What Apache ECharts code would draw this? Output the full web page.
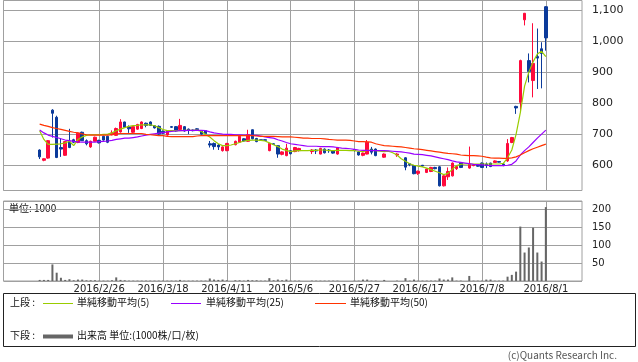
<!DOCTYPE html>
<html><head><meta charset="utf-8">
<script src="https://cdn.jsdelivr.net/npm/echarts/dist/echarts.min.js"></script>
<style>html,body{margin:0;padding:0;background:#fff}#c{width:638px;height:362px}</style>
</head><body><div id="c"></div>
<script>
// trading days shown (2016)
const dates = [
'2016/2/5','2016/2/8','2016/2/9','2016/2/10','2016/2/12','2016/2/15','2016/2/16','2016/2/17','2016/2/18','2016/2/19','2016/2/22','2016/2/23','2016/2/24','2016/2/25','2016/2/26',
'2016/2/29','2016/3/1','2016/3/2','2016/3/3','2016/3/4','2016/3/7','2016/3/8','2016/3/9','2016/3/10','2016/3/11','2016/3/14','2016/3/15','2016/3/16','2016/3/17','2016/3/18',
'2016/3/22','2016/3/23','2016/3/24','2016/3/25','2016/3/28','2016/3/29','2016/3/30','2016/3/31','2016/4/1','2016/4/4','2016/4/5','2016/4/6','2016/4/7','2016/4/8','2016/4/11',
'2016/4/12','2016/4/13','2016/4/14','2016/4/15','2016/4/18','2016/4/19','2016/4/20','2016/4/21','2016/4/22','2016/4/25','2016/4/26','2016/4/27','2016/4/28','2016/5/2','2016/5/6',
'2016/5/9','2016/5/10','2016/5/11','2016/5/12','2016/5/13','2016/5/16','2016/5/17','2016/5/18','2016/5/19','2016/5/20','2016/5/23','2016/5/24','2016/5/25','2016/5/26','2016/5/27',
'2016/5/30','2016/5/31','2016/6/1','2016/6/2','2016/6/3','2016/6/6','2016/6/7','2016/6/8','2016/6/9','2016/6/10','2016/6/13','2016/6/14','2016/6/15','2016/6/16','2016/6/17',
'2016/6/20','2016/6/21','2016/6/22','2016/6/23','2016/6/24','2016/6/27','2016/6/28','2016/6/29','2016/6/30','2016/7/1','2016/7/4','2016/7/5','2016/7/6','2016/7/7','2016/7/8',
'2016/7/11','2016/7/12','2016/7/13','2016/7/14','2016/7/15','2016/7/19','2016/7/20','2016/7/21','2016/7/22','2016/7/25','2016/7/26','2016/7/27','2016/7/28','2016/7/29','2016/8/1'];

const openP = [650,617,624,778,755,658,633,676,683,674,707,680,660,678,681,
694,694,699,697,708,740,724,707,717,719,736,740,728,726,710,
698,725,725,716,725,717,714,718,712,712,670,671,666,648,648,
null,667,675,686,678,715,687,683,683,648,670,664,636,632,648,
645,648,null,null,645,650,637,653,650,648,637,null,null,null,651,
644,633,637,653,653,null,627,null,null,634,null,625,606,600,575,
601,578,581,594,596,535,564,567,590,608,null,592,600,601,608,
605,608,610,613,605,615,674,790,803,1068,937,873,950,975,1110];
const closeP = [628,622,680,768,626,653,677,658,675,704,680,670,678,691,673,
682,675,705,719,740,723,718,725,732,740,729,729,721,701,704,
711,723,711,729,711,713,712,716,701,702,666,661,660,660,671,
null,678,694,679,699,686,677,681,681,671,668,637,644,656,638,
658,655,null,null,650,647,655,641,648,640,658,null,null,null,649,
634,640,675,643,632,null,637,null,null,637,null,595,603,574,582,
599,589,594,590,535,567,581,608,597,594,null,605,602,598,594,
600,597,615,611,603,671,690,785,937,1089,902,928,945,960,1010];
const lowP = [621,614,622,690,624,628,631,656,672,672,679,665,657,677,671,
680,672,697,695,706,721,705,705,715,717,723,727,719,699,701,
696,721,709,714,709,701,710,714,699,700,658,651,650,645,646,
null,665,673,677,676,684,675,679,680,646,666,625,633,630,636,
643,645,null,null,637,637,636,639,641,638,635,null,null,null,645,
632,630,636,636,630,null,625,null,null,628,null,585,598,572,570,
597,576,579,588,533,533,554,565,586,592,null,590,598,596,592,
592,595,609,610,598,612,672,766,771,1050,867,819,846,848,969];
const highP = [652,623,682,781,760,688,679,718,686,706,709,684,680,693,683,
696,696,713,722,749,741,729,727,734,742,738,742,730,729,713,
713,727,727,750,727,719,716,720,714,713,679,674,669,662,673,
null,680,696,688,715,716,689,684,684,673,671,666,646,670,650,
660,657,null,null,653,653,657,655,653,650,660,null,null,null,653,
646,642,682,660,655,null,639,null,null,640,null,627,608,602,584,
602,591,596,596,598,569,594,610,600,610,null,661,604,603,610,
610,609,617,614,608,685,692,792,940,1090,960,1057,1040,996,1112];

const volume = [3,3,3,46,23,9,3,5,2,4,4,2,2,2,1,
1,1,2,10,3,2,1,1,1,1,1,1,1,1,1,
1,1,1,3,1,1,1,1,1,1,7,4,3,4,2,
0,2,2,1,3,2,2,1,1,8,2,4,2,4,1,
1,1,0,0,1,1,1,1,1,1,1,0,0,0,1,
1,4,4,1,1,0,3,0,0,1,0,8,1,4,1,
1,1,1,1,7,4,4,10,1,1,0,14,1,1,1,
4,4,1,1,1,12,17,26,151,79,93,148,79,54,205];

const ma5 = [712,684,668,668,669,670,673,678,664,684,692,697,699,699,699,
700,701,705,712,717,722,726,728,729,731,731,731,728,722,716,
712,712,712,712,713,713,713,714,710,700,692,680,670,664,664,
666,670,674,679,681,682,682,681,679,673,667,661,653,649,645,
647,648,648,648,649,649,650,650,648,648,649,649,649,648,648,
646,645,649,649,648,646,645,646,641,634,622,614,606,601,598,
596,592,587,582,577,571,575,588,600,604,605,605,605,605,605,
605,605,605,605,607,625,650,700,770,855,900,933,958,967,950];
const ma25 = [714,705,698,694,690,686,682,680,678,676,675,675,675,675,677,
678,679,681,684,686,688,688,690,692,695,698,700,702,704,706,
708,710,711,712,712,713,713,713,713,712,708,705,703,701,700,
700,699,699,698,698,697,697,695,692,690,688,683,679,674,670,
668,666,664,662,662,662,661,661,661,660,658,656,655,654,652,
650,649,649,648,648,648,648,647,646,645,644,642,640,637,636,
635,633,631,628,625,622,619,615,612,610,608,606,604,603,602,
601,600,600,600,600,601,604,615,634,648,660,674,688,701,714];
const ma50 = [733,729,726,722,719,716,713,710,707,705,702,699,698,698,698,
698,698,699,702,703,703,703,703,703,703,700,699,698,696,696,
694,693,693,693,693,693,693,695,696,696,696,696,696,696,696,
696,696,696,696,696,696,695,694,694,694,694,693,692,692,692,
691,690,688,688,687,687,687,686,684,683,682,682,682,681,679,
677,677,676,675,670,667,664,663,662,661,660,658,656,654,653,
651,649,647,645,643,641,639,638,637,634,633,632,632,631,630,
627,625,624,624,623,623,625,628,634,641,648,654,659,664,669];

const tickDates = ['2016/2/26','2016/3/18','2016/4/11','2016/5/6','2016/5/27','2016/6/17','2016/7/8','2016/8/1'];
const priceTicks = [600,700,800,900,1000,1100];
const volumeTicks = [50,100,150,200];

const PAD = 8;
const padL = Array.from({length: PAD}, (_, i) => 'padL' + i);
const padR = Array.from({length: PAD}, (_, i) => 'padR' + i);
const cats = padL.concat(dates, padR);
const blanks = Array(PAD).fill('-');
const fill = arr => blanks.concat(arr.map(v => v == null ? '-' : v), blanks);

const candles = blanks.concat(dates.map((d, i) => openP[i] == null ? '-' :
  [openP[i], closeP[i], lowP[i], highP[i]]), blanks);

const UP = '#ff0a3c', DOWN = '#0b3a9a';
const GRID = '#a0a0a0';
const MA5C = '#99cc00', MA25C = '#9900ff', MA50C = '#ff3300';
const JP = '"Noto Sans CJK JP", sans-serif';

const vLines = tickDates.map(d => ({xAxis: d}));
const vMark = {silent: true, symbol: 'none', z: 1, animation: false,
  label: {show: false}, lineStyle: {color: GRID, width: 1, type: 'solid'},
  emphasis: {disabled: true}, data: vLines};

const fmtPrice = v => priceTicks.includes(v) ? v.toLocaleString('en-US') : '';
const fmtVol = v => volumeTicks.includes(v) ? String(v) : '';

const chart = echarts.init(document.getElementById('c'), null, {renderer: 'canvas'});
chart.setOption({
  animation: false,
  backgroundColor: '#fff',
  grid: [
    {left: 3.5, top: 0.5, width: 578.5, height: 190, show: true, borderColor: GRID, borderWidth: 1},
    {left: 3.5, top: 201, width: 578.5, height: 80, show: true, borderColor: GRID, borderWidth: 1}
  ],
  xAxis: [
    {type: 'category', gridIndex: 0, data: cats, boundaryGap: true,
      axisLine: {show: false}, axisTick: {show: false}, axisLabel: {show: false}, splitLine: {show: false}},
    {type: 'category', gridIndex: 1, data: cats, boundaryGap: true,
      axisLine: {show: false}, axisTick: {show: false}, splitLine: {show: false},
      axisLabel: {show: true, interval: (idx, val) => tickDates.includes(val),
        color: '#222', fontSize: 10, fontFamily: 'DejaVu Sans', margin: 3}}
  ],
  yAxis: [
    {type: 'value', gridIndex: 0, position: 'right', min: 520, max: 1130, splitNumber: 7,
      minInterval: 100, maxInterval: 100,
      axisLine: {show: false}, axisTick: {show: false},
      splitLine: {show: true, lineStyle: {color: GRID, width: 1}},
      axisLabel: {formatter: fmtPrice, color: '#222', fontSize: 11, fontFamily: 'DejaVu Sans', margin: 10}},
    {type: 'value', gridIndex: 1, position: 'right', min: 0, max: 222, splitNumber: 5,
      minInterval: 50, maxInterval: 50,
      axisLine: {show: false}, axisTick: {show: false},
      splitLine: {show: true, lineStyle: {color: GRID, width: 1}},
      axisLabel: {formatter: fmtVol, color: '#222', fontSize: 10, fontFamily: 'DejaVu Sans', margin: 10}}
  ],
  series: [
    {type: 'candlestick', name: 'price', xAxisIndex: 0, yAxisIndex: 0, data: candles, barWidth: 3,
      itemStyle: {color: UP, color0: DOWN, borderColor: UP, borderColor0: DOWN, borderWidth: 1},
      markLine: vMark, z: 2},
    {type: 'line', name: '単純移動平均(5)', xAxisIndex: 0, yAxisIndex: 0, data: fill(ma5),
      symbol: 'none', lineStyle: {color: MA5C, width: 1.2}, z: 3},
    {type: 'line', name: '単純移動平均(25)', xAxisIndex: 0, yAxisIndex: 0, data: fill(ma25),
      symbol: 'none', lineStyle: {color: MA25C, width: 1.2}, z: 3},
    {type: 'line', name: '単純移動平均(50)', xAxisIndex: 0, yAxisIndex: 0, data: fill(ma50),
      symbol: 'none', lineStyle: {color: MA50C, width: 1.2}, z: 3},
    {type: 'bar', name: '出来高', xAxisIndex: 1, yAxisIndex: 1, data: fill(volume), barWidth: 2,
      itemStyle: {color: '#666666'}, markLine: vMark, z: 2}
  ],
  graphic: [
    {type: 'text', left: 9, top: 203, silent: true,
      style: {text: '単位: 1000', fill: '#111', font: '10px ' + JP}},
    {type: 'rect', shape: {x: 3.5, y: 293.5, width: 632, height: 53}, silent: true,
      style: {fill: 'none', stroke: '#222', lineWidth: 1}},
    {type: 'text', left: 10, top: 297, silent: true, style: {text: '上段 :', fill: '#111', font: '10px ' + JP}},
    {type: 'line', shape: {x1: 43, y1: 303.5, x2: 73, y2: 303.5}, silent: true, style: {stroke: MA5C, lineWidth: 1}},
    {type: 'text', left: 77, top: 297, silent: true, style: {text: '単純移動平均(5)', fill: '#111', font: '10px ' + JP}},
    {type: 'line', shape: {x1: 171, y1: 303.5, x2: 201, y2: 303.5}, silent: true, style: {stroke: MA25C, lineWidth: 1}},
    {type: 'text', left: 206, top: 297, silent: true, style: {text: '単純移動平均(25)', fill: '#111', font: '10px ' + JP}},
    {type: 'line', shape: {x1: 315, y1: 303.5, x2: 346, y2: 303.5}, silent: true, style: {stroke: MA50C, lineWidth: 1}},
    {type: 'text', left: 350, top: 297, silent: true, style: {text: '単純移動平均(50)', fill: '#111', font: '10px ' + JP}},
    {type: 'text', left: 10, top: 330, silent: true, style: {text: '下段 :', fill: '#111', font: '10px ' + JP}},
    {type: 'line', shape: {x1: 43, y1: 336.5, x2: 73, y2: 336.5}, silent: true, style: {stroke: '#666', lineWidth: 4}},
    {type: 'text', left: 77, top: 330, silent: true, style: {text: '出来高 単位:(1000株/口/枚)', fill: '#111', font: '10px ' + JP}},
    {type: 'text', right: 21, top: 350, silent: true, style: {text: '(c)Quants Research Inc.', fill: '#555', font: '10px ' + JP}}
  ]
});
</script>
</body></html>
